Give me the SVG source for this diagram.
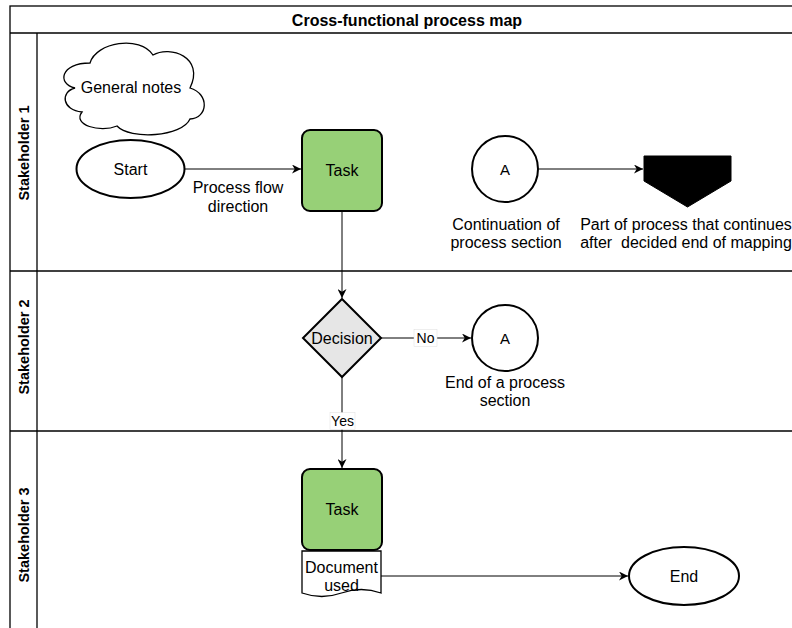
<svg xmlns="http://www.w3.org/2000/svg" width="792" height="628" viewBox="0 0 792 628">
<defs>
<style>
text{font-family:"Liberation Sans",Arial,sans-serif;font-size:16px;fill:#000;text-anchor:middle;dominant-baseline:central;white-space:pre}
.bold{font-weight:bold}
.lane-t{font-size:14.5px;font-weight:bold}
.lane{fill:none;stroke:#000;stroke-width:1.3}
.shape{stroke:#000;stroke-width:2}
.task{fill:#97D077;stroke:#000;stroke-width:2}
.edge{fill:none;stroke:#000;stroke-width:1}
.lbl{font-size:14px}
.a{font-size:15px}
</style>
<marker id="arr" viewBox="0 0 10 10" refX="10" refY="5" markerWidth="9" markerHeight="9" markerUnits="userSpaceOnUse" orient="auto">
<path d="M0,0 L10,5 L0,10 L3,5 Z" fill="#000"/>
</marker>
</defs>
<rect width="792" height="628" fill="#fff"/>
<g id="pool">
<rect class="lane" x="10" y="6" width="800" height="640"/>
<line class="lane" x1="10" y1="33" x2="810" y2="33"/>
<text class="bold" x="407" y="20">Cross-functional process map</text>
</g>
<g id="lane1">
<line class="lane" x1="37" y1="33" x2="37" y2="271"/>
<line class="lane" x1="10" y1="271" x2="810" y2="271"/>
<text class="lane-t" transform="translate(23.5,153) rotate(-90)">Stakeholder 1</text>
</g>
<g id="lane2">
<line class="lane" x1="37" y1="271" x2="37" y2="431"/>
<line class="lane" x1="10" y1="431" x2="810" y2="431"/>
<text class="lane-t" transform="translate(23.5,347) rotate(-90)">Stakeholder 2</text>
</g>
<g id="lane3">
<line class="lane" x1="37" y1="431" x2="37" y2="646"/>
<text class="lane-t" transform="translate(23.5,535) rotate(-90)">Stakeholder 3</text>
</g>
<g id="connectors">
<line class="edge" x1="185" y1="169" x2="301" y2="169" marker-end="url(#arr)"/>
<line class="edge" x1="342" y1="211" x2="342" y2="298" marker-end="url(#arr)"/>
<line class="edge" x1="381" y1="338" x2="471" y2="338" marker-end="url(#arr)"/>
<line class="edge" x1="342" y1="377" x2="342" y2="468" marker-end="url(#arr)"/>
<line class="edge" x1="539" y1="169" x2="643" y2="169" marker-end="url(#arr)"/>
<line class="edge" x1="381" y1="576" x2="628" y2="576" marker-end="url(#arr)"/>
<text x="238" y="187">Process flow</text>
<text x="238" y="206">direction</text>
<rect x="414" y="329.5" width="23" height="17" fill="#fff" stroke="#ddd" stroke-width="0.5"/>
<text class="lbl" x="425.5" y="338">No</text>
<rect x="330" y="412.5" width="25" height="17" fill="#fff" stroke="#ddd" stroke-width="0.5"/>
<text class="lbl" x="342.5" y="421">Yes</text>
</g>
<g id="notes">
<path class="shape" style="stroke-width:1.3" fill="#fff" d="M75,88 C57,84 60,63 90,63 C96,42 140,35 153,55 C170,45 205,57 190,88 C210,94 208,118 190,119 C182,137 130,140 117,126 C100,133 72,125 82,112 C62,110 60,92 75,88 Z"/>
<text x="131" y="87">General notes</text>
</g>
<g id="start">
<ellipse class="shape" fill="#fff" cx="130.5" cy="169" rx="54" ry="29"/>
<text x="130.5" y="169">Start</text>
</g>
<g id="task1">
<rect class="task" x="302" y="130" width="80" height="81" rx="8"/>
<text x="342" y="170">Task</text>
</g>
<g id="contA">
<circle class="shape" fill="#fff" cx="505" cy="169" r="33"/>
<text x="505" y="169" class="a">A</text>
<text x="506" y="224">Continuation of</text>
<text x="506" y="242">process section</text>
</g>
<g id="offpage">
<path d="M644,156 H731 V181 L687.5,207 L644,181 Z" fill="#000" stroke="#000"/>
<text x="686" y="224">Part of process that continues</text>
<text x="686" y="242">after  decided end of mapping</text>
</g>
<g id="decision">
<path class="shape" fill="#E6E6E6" d="M342,299 L381,338 L342,377 L303,338 Z"/>
<text x="342" y="338">Decision</text>
</g>
<g id="endA">
<circle class="shape" fill="#fff" cx="505" cy="338" r="33"/>
<text x="505" y="338" class="a">A</text>
<text x="505" y="382">End of a process</text>
<text x="505" y="400">section</text>
</g>
<g id="task2">
<rect class="task" x="302" y="469" width="80" height="81" rx="8"/>
<text x="342" y="509">Task</text>
</g>
<g id="document">
<path class="shape" style="stroke-width:1.3" fill="#fff" d="M302,551 H381 V593 Q361.25,586 341.5,593 Q321.75,600 302,593 Z"/>
<text x="341.5" y="567">Document</text>
<text x="341.5" y="585">used</text>
</g>
<g id="end">
<ellipse class="shape" fill="#fff" cx="684" cy="576" rx="55" ry="29"/>
<text x="684" y="576">End</text>
</g>
</svg>
